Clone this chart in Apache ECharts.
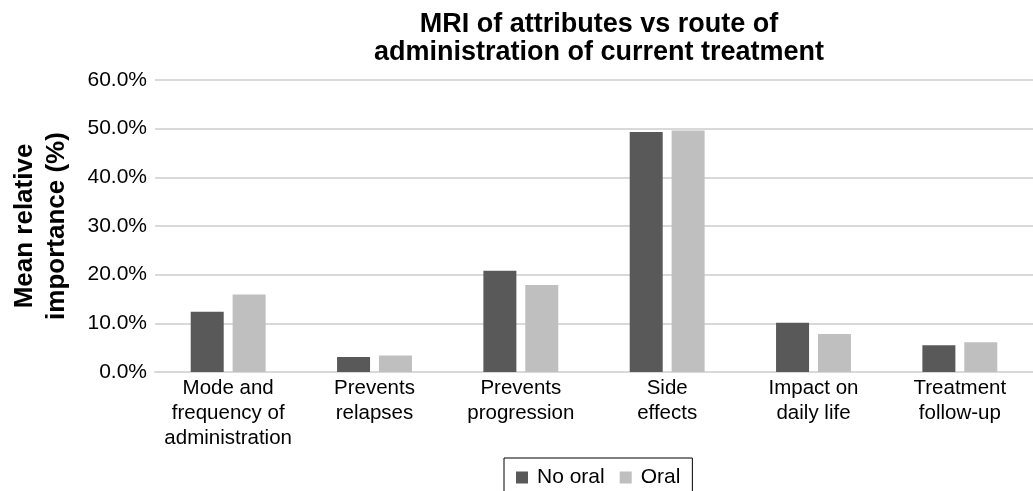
<!DOCTYPE html>
<html>
<head>
<meta charset="utf-8">
<script src="https://cdn.jsdelivr.net/npm/echarts@6/dist/echarts.min.js"></script>
<style>
html,body{margin:0;padding:0;background:#fff;}
#chart{width:1033px;height:491px;}
</style>
</head>
<body>
<div id="chart"></div>
<script>
const categories = [
  "Mode and\nfrequency of\nadministration",
  "Prevents\nrelapses",
  "Prevents\nprogression",
  "Side\neffects",
  "Impact on\ndaily life",
  "Treatment\nfollow-up"
];
const noOral = [12.4, 3.1, 20.8, 49.3, 10.1, 5.5];
const oral = [15.9, 3.4, 17.9, 49.6, 7.8, 6.1];
const seriesNames = ["No oral", "Oral"];
const titleText = "MRI of attributes vs route of\nadministration of current treatment";
const yAxisTitle = "Mean relative\nimportance (%)";

const chart = echarts.init(document.getElementById('chart'), null, {renderer: 'canvas'});
const font = "'Liberation Sans', Arial, sans-serif";
chart.setOption({
  animation: false,
  backgroundColor: '#ffffff',
  title: {
    text: titleText,
    left: 599,
    textAlign: 'center',
    top: 11,
    padding: 0,
    textStyle: {fontFamily: font, fontSize: 27, fontWeight: 'bold', color: '#000', lineHeight: 28}
  },
  legend: {
    data: seriesNames,
    left: 504,
    top: 458,
    orient: 'horizontal',
    icon: 'rect',
    itemWidth: 12,
    itemHeight: 12,
    itemGap: 15,
    borderColor: '#000',
    borderWidth: 1,
    padding: [9, 12, 12, 12],
    textStyle: {fontFamily: font, fontSize: 21, color: '#000', padding: [0, 0, 0, 4]}
  },
  grid: {left: 155, right: 0, top: 80, bottom: 119, containLabel: false},
  xAxis: {
    type: 'category',
    data: categories,
    axisLine: {lineStyle: {color: '#d9d9d9', width: 2}},
    axisTick: {show: false},
    axisLabel: {interval: 0, fontFamily: font, fontSize: 20.5, color: '#000', lineHeight: 25, margin: 4}
  },
  yAxis: {
    type: 'value',
    min: 0,
    max: 60,
    interval: 10,
    name: yAxisTitle,
    nameLocation: 'middle',
    nameGap: 82,
    nameTextStyle: {fontFamily: font, fontSize: 26, fontWeight: 'bold', color: '#000', lineHeight: 32},
    axisLine: {show: false},
    axisTick: {show: false},
    splitLine: {lineStyle: {color: '#d9d9d9', width: 2}},
    axisLabel: {fontFamily: font, fontSize: 21, color: '#000', margin: 8,
      formatter: v => v.toFixed(1) + '%'}
  },
  series: [
    {name: seriesNames[0], type: 'bar', data: noOral, barWidth: 33, barGap: '27%',
     itemStyle: {color: '#595959'}},
    {name: seriesNames[1], type: 'bar', data: oral, barWidth: 33,
     itemStyle: {color: '#bfbfbf'}}
  ]
});
</script>
</body>
</html>
